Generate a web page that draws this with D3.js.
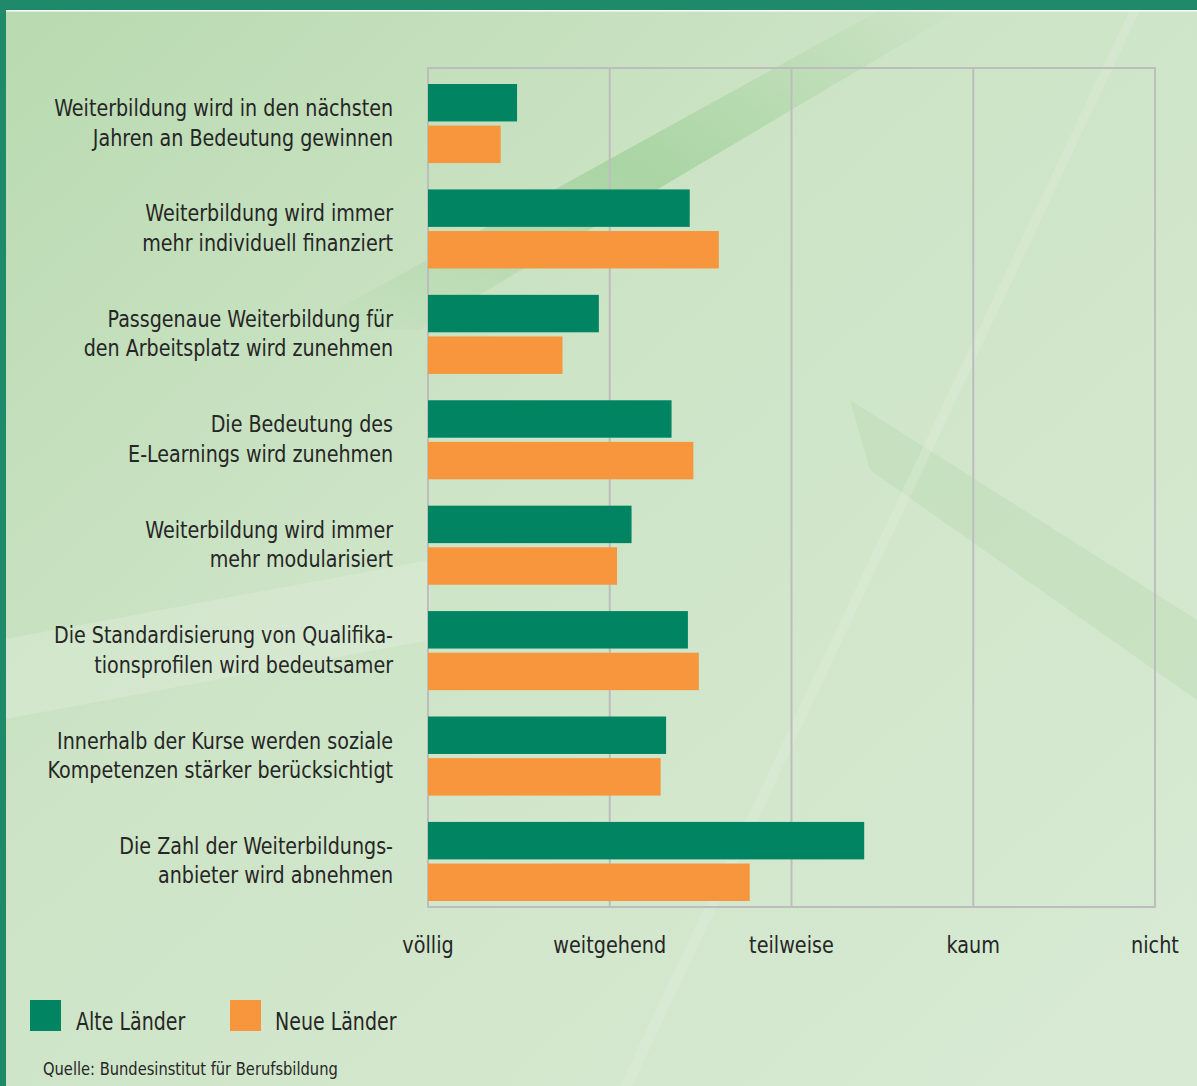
<!DOCTYPE html>
<html><head><meta charset="utf-8">
<script src="https://cdn.jsdelivr.net/npm/d3@7"></script>
<style>
html,body{margin:0;padding:0;background:#d6e9d2;}
svg{display:block;}
text{font-family:"Liberation Sans Narrow","DejaVu Sans Condensed","Roboto",sans-serif;fill:#262626;}
</style></head><body>
<svg id="c" width="1197" height="1086"></svg>
<script>
const categories = [
  ["Weiterbildung wird in den nächsten","Jahren an Bedeutung gewinnen"],
  ["Weiterbildung wird immer","mehr individuell finanziert"],
  ["Passgenaue Weiterbildung für","den Arbeitsplatz wird zunehmen"],
  ["Die Bedeutung des","E-Learnings wird zunehmen"],
  ["Weiterbildung wird immer","mehr modularisiert"],
  ["Die Standardisierung von Qualifika-","tionsprofilen wird bedeutsamer"],
  ["Innerhalb der Kurse werden soziale","Kompetenzen stärker berücksichtigt"],
  ["Die Zahl der Weiterbildungs-","anbieter wird abnehmen"]
];
const alteLaender = [0.49, 1.44, 0.94, 1.34, 1.12, 1.43, 1.31, 2.40];
const neueLaender = [0.40, 1.60, 0.74, 1.46, 1.04, 1.49, 1.28, 1.77];
const tickLabels = ["völlig","weitgehend","teilweise","kaum","nicht"];
const seriesNames = ["Alte Länder","Neue Länder"];
const source = "Quelle: Bundesinstitut für Berufsbildung";

const colors = ["#008462","#f7963c"];
const svg = d3.select("#c");
const W = 1197, H = 1086;

// background
const defs = svg.append("defs");
const g1 = defs.append("linearGradient").attr("id","bg").attr("x1","0").attr("y1","0").attr("x2","1").attr("y2","1");
g1.append("stop").attr("offset","0").attr("stop-color","#b8dab0");
g1.append("stop").attr("offset","0.4").attr("stop-color","#cde4c6");
g1.append("stop").attr("offset","1").attr("stop-color","#d8ead4");
svg.append("rect").attr("width",W).attr("height",H).attr("fill","url(#bg)");
const g2 = defs.append("linearGradient").attr("id","streak").attr("x1","0").attr("y1","1").attr("x2","1").attr("y2","0");
g2.append("stop").attr("offset","0").attr("stop-color","#8fc98a").attr("stop-opacity","0");
g2.append("stop").attr("offset","0.5").attr("stop-color","#8fc98a").attr("stop-opacity","0.55");
g2.append("stop").attr("offset","1").attr("stop-color","#8fc98a").attr("stop-opacity","0");
svg.append("path").attr("d","M300,330 L880,10 L960,10 L420,330 Z").attr("fill","url(#streak)");
svg.append("path").attr("d","M850,400 L1197,620 L1197,700 L870,470 Z").attr("fill","#b7d9b0").attr("opacity",0.4);
svg.append("path").attr("d","M0,640 L430,560 L430,640 L0,720 Z").attr("fill","#e8f2e4").attr("opacity",0.3);
svg.append("path").attr("d","M620,1086 L1130,10 L1140,10 L632,1086 Z").attr("fill","#eef6ec").attr("opacity",0.2);

// borders
svg.append("rect").attr("x",0).attr("y",0).attr("width",W).attr("height",10).attr("fill","#1e8a6a");
svg.append("rect").attr("x",0).attr("y",10).attr("width",W).attr("height",1.5).attr("fill","#ffffff");
svg.append("rect").attr("x",0).attr("y",0).attr("width",6).attr("height",H).attr("fill","#1e8a6a");

const x = d3.scaleLinear().domain([0,4]).range([428,1155]);
const y0 = d3.scaleBand().domain(d3.range(categories.length)).range([84,901]).paddingInner(0.25).paddingOuter(0);
const y1 = d3.scaleBand().domain([0,1]).range([0,y0.bandwidth()]).paddingInner(0.1);

// helper for condensed text
function ctext(parent, tx, ty, str, size, anchor, sx){
  return parent.append("text")
    .attr("transform",`translate(${tx},${ty}) scale(${sx},1)`)
    .attr("text-anchor",anchor).attr("font-size",size).text(str);
}

// grid
const grid = svg.append("g");
grid.selectAll("line").data(d3.range(5)).join("line")
  .attr("x1",d=>x(d)).attr("x2",d=>x(d)).attr("y1",68).attr("y2",907)
  .attr("stroke","#bdbdbd").attr("stroke-width",2);
grid.append("rect").attr("x",x(0)).attr("y",68).attr("width",x(4)-x(0)).attr("height",907-68)
  .attr("fill","none").attr("stroke","#bdbdbd").attr("stroke-width",2);

// bars
const bars = svg.append("g");
[alteLaender, neueLaender].forEach((arr, s) => {
  bars.selectAll(".b"+s).data(arr).join("rect")
    .attr("x",x(0)).attr("y",(d,i)=>y0(i)+y1(s)).attr("width",d=>x(d)-x(0))
    .attr("height",y1.bandwidth()).attr("fill",colors[s]);
});

// category labels
const lab = svg.append("g");
categories.forEach((lines,i)=>{
  const cy = y0(i)+y0.bandwidth()/2;
  lines.forEach((l,j)=>{
    ctext(lab, 393, cy-7.5+j*29.5, l, 22.5, "end", 0.944);
  });
});

// axis tick labels
const ax = svg.append("g");
tickLabels.forEach((d,i)=>ctext(ax, x(i), 953, d, 22.5, "middle", 0.95));

// legend
const leg = svg.append("g");
const lx = [30, 230], tx = [76, 275];
seriesNames.forEach((n,i)=>{
  leg.append("rect").attr("x",lx[i]).attr("y",1000).attr("width",31).attr("height",31).attr("fill",colors[i]);
  ctext(leg, tx[i], 1030, n, 24, "start", 0.88);
});
ctext(svg, 43, 1075, source, 17.5, "start", 0.933);
</script>
</body></html>
